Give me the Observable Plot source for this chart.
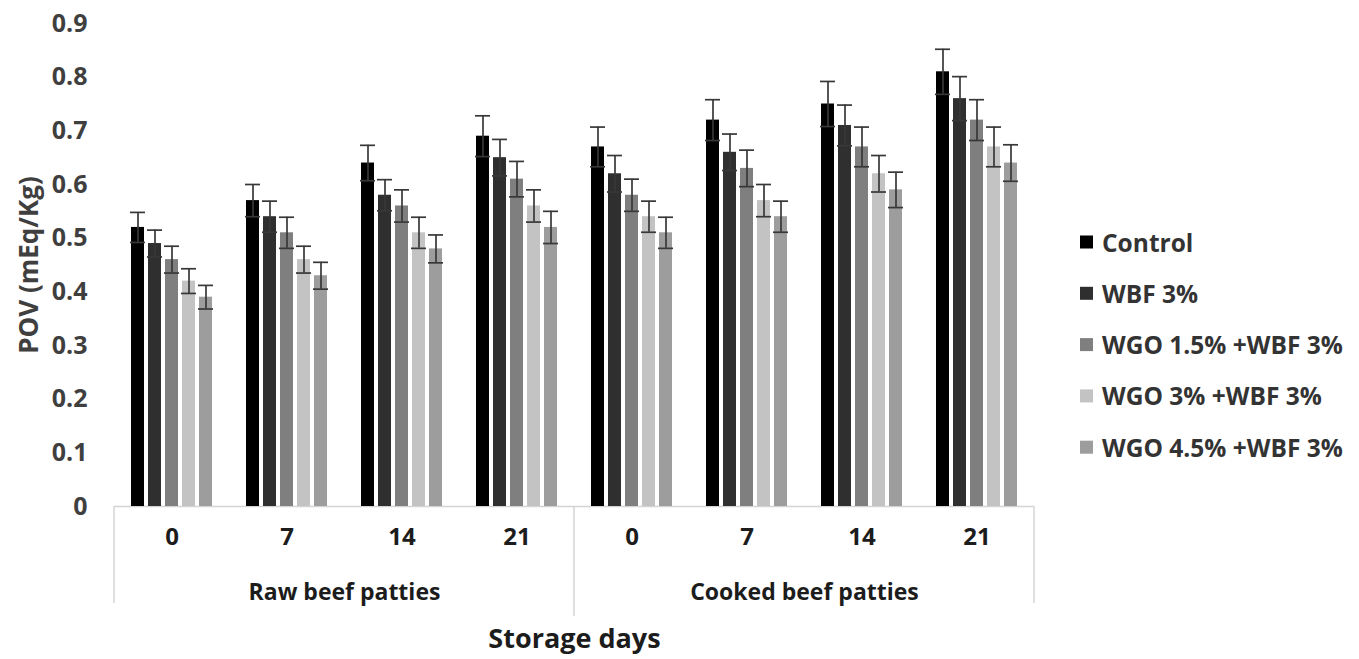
<!DOCTYPE html>
<html>
<head>
<meta charset="utf-8">
<script src="https://cdn.jsdelivr.net/npm/d3@7"></script>
<script src="https://cdn.jsdelivr.net/npm/@observablehq/plot@0.6"></script>
<style>
  html, body { margin: 0; padding: 0; background: #fff; }
  #chart { position: relative; width: 1359px; height: 659px; }
</style>
</head>
<body>
<div id="chart"></div>
<script>
// ---- data ----
const series = ["Control", "WBF 3%", "WGO 1.5% +WBF 3%", "WGO 3% +WBF 3%", "WGO 4.5% +WBF 3%"];
const seriesColors = ["#000000", "#2f2f2f", "#7f7f7f", "#c3c3c3", "#9d9d9d"];
const states = ["Raw beef patties", "Cooked beef patties"];
const days = ["0", "7", "14", "21"];
const yTicks = [0, 0.1, 0.2, 0.3, 0.4, 0.5, 0.6, 0.7, 0.8, 0.9];

// values per series across: Raw 0,7,14,21 then Cooked 0,7,14,21
const controlPOV = [0.52, 0.57, 0.64, 0.69, 0.67, 0.72, 0.75, 0.81];
const wbfPOV     = [0.49, 0.54, 0.58, 0.65, 0.62, 0.66, 0.71, 0.76];
const wgo15POV   = [0.46, 0.51, 0.56, 0.61, 0.58, 0.63, 0.67, 0.72];
const wgo3POV    = [0.42, 0.46, 0.51, 0.56, 0.54, 0.57, 0.62, 0.67];
const wgo45POV   = [0.39, 0.43, 0.48, 0.52, 0.51, 0.54, 0.59, 0.64];

const controlErr = [0.028, 0.030, 0.033, 0.038, 0.037, 0.038, 0.042, 0.042];
const wbfErr     = [0.025, 0.029, 0.029, 0.034, 0.034, 0.034, 0.038, 0.041];
const wgo15Err   = [0.025, 0.029, 0.030, 0.033, 0.030, 0.034, 0.037, 0.038];
const wgo3Err    = [0.023, 0.025, 0.029, 0.030, 0.029, 0.030, 0.034, 0.037];
const wgo45Err   = [0.022, 0.025, 0.026, 0.030, 0.029, 0.029, 0.033, 0.034];

const values = [controlPOV, wbfPOV, wgo15POV, wgo3POV, wgo45POV];
const errors = [controlErr, wbfErr, wgo15Err, wgo3Err, wgo45Err];

// ---- build tables ----
const keys = [];
const dayRows = [];
states.forEach(st => days.forEach(d => { const k = st + "|" + d; keys.push(k); dayRows.push({key: k, day: d}); }));

const rows = [];
keys.forEach((k, i) => series.forEach((s, j) => {
  const v = values[j][i], e = errors[j][i];
  rows.push({key: k, series: s, value: v, lo: v - e, hi: v + e});
}));

const groupRows = states.map((st, i) => ({label: st, anchor: keys[i * days.length + 1]}));

const FONT = "'Open Sans', 'DejaVu Sans', sans-serif";
const errStroke = "#383838";

const chart = Plot.plot({
  width: 1359,
  height: 659,
  marginLeft: 114,
  marginRight: 325,
  marginTop: 23,
  marginBottom: 153,
  style: {fontFamily: FONT, background: "#fff", overflow: "visible"},
  fx: {domain: keys, padding: 0, axis: null},
  x: {domain: series, paddingInner: 0.23, paddingOuter: 0.88, axis: null},
  y: {domain: [0, 0.9], axis: null},
  color: {domain: series, range: seriesColors},
  marks: [
    Plot.ruleY([0], {stroke: "#d4d4d4", strokeWidth: 1.5}),
    Plot.axisY({
      ticks: yTicks, tickSize: 0, tickPadding: 27, label: null,
      tickFormat: d => d === 0 ? "0" : d.toFixed(1),
      fontSize: 25, fontWeight: "bold", fill: "#3f3f3f"
    }),
    Plot.barY(rows, {fx: "key", x: "series", y1: 0, y2: "value", fill: "series"}),
    Plot.ruleX(rows, {fx: "key", x: "series", y1: "lo", y2: "hi", stroke: errStroke, strokeWidth: 1.7}),
    Plot.tickY(rows, {fx: "key", x: "series", y: "hi", stroke: errStroke, strokeWidth: 1.7, insetLeft: -1, insetRight: -1}),
    Plot.tickY(rows, {fx: "key", x: "series", y: "lo", stroke: errStroke, strokeWidth: 1.7, insetLeft: -1, insetRight: -1}),
    Plot.text(dayRows, {fx: "key", text: "day", frameAnchor: "bottom", dy: 38,
      fontSize: 24, fontWeight: "bold", fill: "#1c1c1c"}),
    Plot.text(groupRows, {fx: "anchor", text: "label", frameAnchor: "bottom-right", textAnchor: "middle", dy: 93,
      fontSize: 23, fontWeight: "bold", fill: "#1c1c1c"}),
    Plot.text(["Storage days"], {fx: [keys[days.length - 1]], text: d => d, frameAnchor: "bottom-right", textAnchor: "middle", dy: 141,
      fontSize: 27, fontWeight: "bold", fill: "#1c1c1c"})
  ]
});

document.getElementById("chart").appendChild(chart);

// ---- category box lines (from the library's scales) ----
const svg = d3.select(chart);
const fx = chart.scale("fx");
const ys = chart.scale("y");
const y0 = ys.apply(0);
const bw = fx.bandwidth;
const boxLines = [
  {x: fx.apply(keys[0]), len: 97},
  {x: fx.apply(keys[days.length]), len: 110},
  {x: fx.apply(keys[keys.length - 1]) + bw, len: 97}
];
svg.append("g").selectAll("line").data(boxLines).join("line")
  .attr("x1", d => d.x).attr("x2", d => d.x)
  .attr("y1", y0).attr("y2", d => y0 + d.len)
  .attr("stroke", "#d4d4d4").attr("stroke-width", 1.5);

// ---- y axis title ----
svg.append("text")
  .attr("transform", "translate(28,265) rotate(-90)")
  .attr("text-anchor", "middle")
  .attr("dominant-baseline", "central")
  .attr("font-family", FONT).attr("font-weight", "bold").attr("font-size", 26)
  .attr("fill", "#3f3f3f")
  .text("POV (mEq/Kg)");

// ---- legend ----
const color = chart.scale("color");
const lg = svg.append("g").attr("font-family", FONT).attr("font-weight", "bold").attr("font-size", 24.5)
  .attr("text-anchor", "start");
series.forEach((s, i) => {
  const cy = 242 + i * 51.3;
  lg.append("rect").attr("x", 1080).attr("y", cy - 6.5).attr("width", 13).attr("height", 13)
    .attr("fill", color.apply(s));
  lg.append("text").attr("x", 1102).attr("y", cy).attr("dominant-baseline", "central")
    .attr("text-anchor", "start")
    .attr("fill", "#333").text(s);
});
</script>
</body>
</html>
